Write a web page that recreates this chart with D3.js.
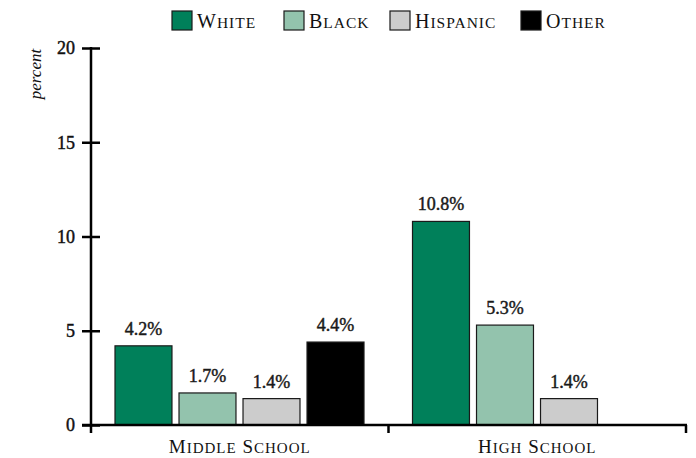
<!DOCTYPE html>
<html><head><meta charset="utf-8">
<script src="https://cdn.jsdelivr.net/npm/d3@7"></script>
<style>
body{margin:0;background:#fff;}
svg{font-family:"Liberation Serif","Times New Roman",serif;}
</style></head>
<body><svg id="c" width="696" height="458"></svg>
<script>
const categories = ["Middle School", "High School"];
const races = ["White", "Black", "Hispanic", "Other"];
const white = [4.2, 10.8];
const black = [1.7, 5.3];
const hispanic = [1.4, 1.4];
const other = [4.4, null];
const yTicks = [0, 5, 10, 15, 20];
const colors = ["#00805a", "#93c3ad", "#cccccc", "#000000"];

const seriesVals = [white, black, hispanic, other];
const data = categories.map((c, i) => ({cat: c, vals: races.map((r, j) => ({race: r, v: seriesVals[j][i], color: colors[j]}))}));

// manual small caps: first letter of each word big, rest uppercase smaller
function smallCaps(sel, big, small) {
  sel.each(function(d) {
    const t = d3.select(this);
    const words = String(d).split(" ");
    words.forEach((w, wi) => {
      const first = (wi > 0 ? " " : "") + w[0];
      t.append("tspan").attr("font-size", big).text(first);
      if (w.length > 1) t.append("tspan").attr("font-size", small).text(w.slice(1).toUpperCase());
    });
  });
}

const svg = d3.select("#c");
const x0 = d3.scaleBand().domain(categories).range([91, 686]).padding(0);
const x1 = d3.scaleBand().domain(races).range([24, 273]).paddingInner(0.11).paddingOuter(0);
const y = d3.scaleLinear().domain([0, 20]).range([425, 48]);

// bars
const g = svg.append("g");
const groups = g.selectAll("g.cat").data(data).join("g")
  .attr("transform", d => `translate(${x0(d.cat)},0)`);
const bars = groups.selectAll("g.bar").data(d => d.vals.filter(v => v.v != null)).join("g");
bars.append("rect")
  .attr("x", d => x1(d.race)).attr("width", x1.bandwidth())
  .attr("y", d => y(d.v)).attr("height", d => y(0) - y(d.v))
  .attr("fill", d => d.color).attr("stroke", "#1a1a1a").attr("stroke-width", 1.2);
bars.append("text")
  .attr("x", d => x1(d.race) + x1.bandwidth() / 2)
  .attr("y", d => y(d.v) - 11)
  .attr("text-anchor", "middle").attr("font-size", 18).attr("fill", "#1a1a1a")
  .attr("stroke", "#1a1a1a").attr("stroke-width", 0.45)
  .text(d => d.v.toFixed(1) + "%");

// y axis
const yAxis = d3.axisLeft(y).tickValues(yTicks).tickSize(0).tickPadding(16);
const ya = svg.append("g").attr("transform", "translate(91,0)").call(yAxis);
ya.select(".domain").remove();
ya.selectAll("text").attr("font-size", 18).attr("fill", "#111")
  .attr("stroke", "#111").attr("stroke-width", 0.45)
  .attr("font-family", "Liberation Serif, serif");
ya.selectAll(".tick").append("line").attr("x1", -9).attr("x2", 9).attr("stroke", "#000").attr("stroke-width", 2.5);
svg.append("line").attr("x1", 91).attr("x2", 91).attr("y1", 47).attr("y2", 433).attr("stroke", "#000").attr("stroke-width", 2.5);

// x axis baseline and ticks
svg.append("line").attr("x1", 82).attr("x2", 687).attr("y1", 425).attr("y2", 425).attr("stroke", "#000").attr("stroke-width", 2.5);
const xEdges = [x0(categories[1]), x0.range()[1]];
svg.selectAll("line.xt").data(xEdges).join("line").attr("class", "xt")
  .attr("x1", d => d).attr("x2", d => d).attr("y1", 425).attr("y2", 433)
  .attr("stroke", "#000").attr("stroke-width", 2.5);
svg.selectAll("text.cat").data(categories).join("text").attr("class", "cat")
  .attr("x", d => x0(d) + x0.bandwidth() / 2).attr("y", 453)
  .attr("text-anchor", "middle").attr("fill", "#111").attr("letter-spacing", 1)
  .call(smallCaps, 19, 15);

// y label
svg.append("text").attr("transform", "translate(41,74) rotate(-90)")
  .attr("text-anchor", "middle").attr("font-size", 17).attr("font-style", "italic").attr("fill", "#111")
  .text("percent");

// legend
const legX = [172, 284, 390, 521];
const leg = svg.selectAll("g.leg").data(races).join("g").attr("class", "leg")
  .attr("transform", (d, i) => `translate(${legX[i]},11)`);
leg.append("rect").attr("width", 20).attr("height", 19)
  .attr("fill", (d, i) => colors[i]).attr("stroke", "#1a1a1a").attr("stroke-width", 1.2);
leg.append("text").attr("x", 25).attr("y", 17).attr("fill", "#111").attr("letter-spacing", 1)
  .call(smallCaps, 20, 15.5);
</script></body></html>
